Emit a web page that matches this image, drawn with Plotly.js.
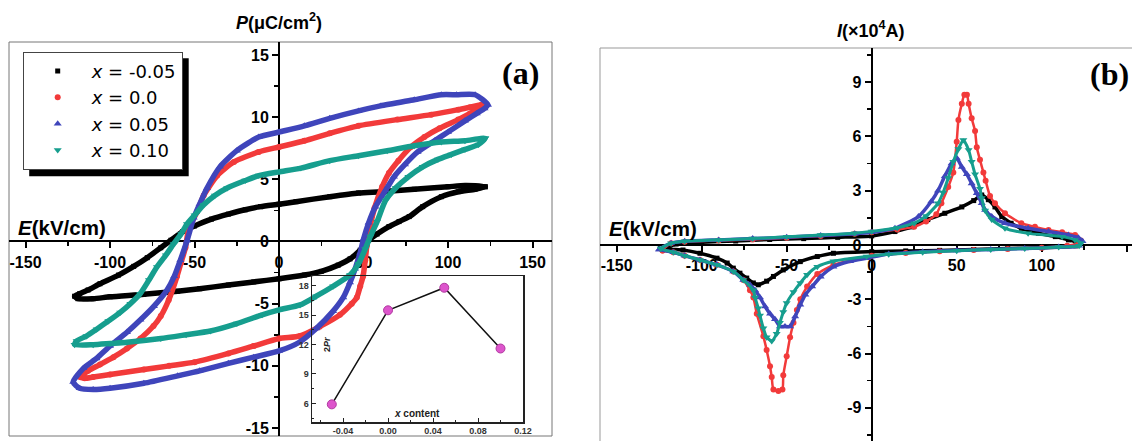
<!DOCTYPE html>
<html><head><meta charset="utf-8">
<script src="https://cdn.plot.ly/plotly-3.0.1.min.js"></script>
<style>html,body{margin:0;padding:0;background:#fff}#chart{width:1132px;height:441px}</style>
</head><body><div id="chart"></div>
<script>
// ---------- Panel (a): P-E loops (E in kV/cm, P in uC/cm2) ----------
const aBlackE = [122,110,100,80,60,47,30,10,0,-11,-20,-30,-40,-50,-57,-64,-70,-78,-86,-95,-106,-113,-118,-121,
                 -119,-110,-100,-80,-60,-47,-30,-15,0,15,25,35,42,48,53,58,65,71,77,85,96,106,116,122];
const aBlackP = [4.4,4.5,4.4,4.2,4.0,3.9,3.6,3.2,3.0,2.8,2.55,2.2,1.8,1.25,0.8,0.1,-0.5,-1.3,-2.0,-2.7,-3.4,-3.9,-4.2,-4.4,
                 -4.6,-4.6,-4.45,-4.25,-4.0,-3.8,-3.5,-3.25,-3.0,-2.7,-2.4,-1.9,-1.4,-0.7,0.1,0.6,1.2,1.6,2.0,2.8,3.6,4.0,4.2,4.4];
const aRedE = [120,113,106,90,70,47,30,15,0,-12,-26.7,-36.6,-44.6,-48.5,-53.5,-55.4,-58,-60.4,-65.3,-70,-74.3,-82,-90,-98,-106,-113,-117.8,
               -115,-110,-100,-80,-65,-50,-30,-15,0,12.4,24,36,43,46,48,49.7,51,52,54,56.5,61,65,70.6,78,86,95,106,113,118,120];
const aRedP = [11.0,10.8,10.6,10.2,9.8,9.3,8.7,8.1,7.6,7.2,6.4,5.3,3.7,2.4,1.0,-0.5,-1.7,-2.8,-4.7,-6.0,-6.8,-7.8,-8.6,-9.3,-9.9,-10.4,-10.9,
               -11.0,-10.9,-10.7,-10.3,-10.0,-9.7,-9.0,-8.4,-7.8,-7.6,-6.85,-5.9,-5.0,-4.5,-3.6,-2.8,-1.5,-0.3,1.3,2.7,4.4,5.5,6.5,7.6,8.4,9.1,9.8,10.3,10.7,11.0];
const aBlueE = [123.5,116,105,96,80,60,47,30,15,0,-12,-25,-35,-42.6,-47,-50.5,-54.5,-58.4,-62,-66.3,-74,-82,-90,-100,-108,-115.8,-121.8,
                -118,-110,-100,-80,-60,-47,-30,-15,0,12,22,32,38,42,45,48,50,53,57,63,68,74.5,82,92,100,110,117,121.6,123.5];
const aBlueP = [11.0,11.8,11.8,11.8,11.4,10.9,10.5,9.9,9.3,8.8,8.4,7.3,6.0,4.3,3.0,1.9,0.05,-1.5,-2.8,-3.9,-5.2,-6.3,-7.3,-8.4,-9.4,-10.2,-11.3,
                -11.8,-11.9,-11.8,-11.4,-10.8,-10.4,-9.8,-9.3,-8.8,-8.1,-7.0,-5.6,-4.5,-3.3,-2.2,-0.9,0.2,1.5,2.8,4.1,5.2,6.2,7.2,8.1,8.8,9.7,10.3,10.7,11.0];
const aTealE = [122,110,96,80,64,47,30,12.9,0,-12,-20,-30.7,-38,-44.6,-50,-54.5,-58,-62.4,-67,-72.3,-77,-82.2,-88,-94,-101,-107.9,-114,-119.8,-121,
                -110,-100,-90,-70,-55,-40.6,-25,-10,0,12.4,22,32,42,47,51,54,58,63,69,76.5,85,94,102,110,118,122];
const aTealP = [8.3,8.1,8.0,7.7,7.3,6.9,6.5,5.9,5.6,5.3,4.9,4.3,3.7,2.95,2.1,1.4,0.6,-0.2,-1.1,-2.05,-3.1,-4.2,-5.0,-5.7,-6.4,-7.05,-7.6,-8.0,-8.3,
                -8.3,-8.2,-8.1,-7.8,-7.5,-7.2,-6.6,-5.9,-5.5,-5.1,-4.4,-3.6,-2.7,-1.8,-0.6,0.4,1.6,3.3,4.3,5.2,6.0,6.6,7.0,7.4,7.8,8.3];

// ---------- Panel (b): I-E loops (I in 1e4 A) ----------
const bBlackE = [-121,-115,-100,-80,-60,-40,-20,0,13.7,23.5,33,43,53,60,64.7,68.6,72.5,76.5,82,88,98,108,115.7,121.6,
                 120,100,80,60,40,20,0,-22.5,-32,-42,-52,-57.8,-61.8,-66.7,-69.6,-73.5,-77.5,-81.4,-85,-91,-101,-111,-121];
const bBlackI = [-0.2,0.05,0.15,0.22,0.3,0.35,0.42,0.5,0.74,1.0,1.4,1.75,2.1,2.45,2.76,2.5,2.1,1.57,1.2,0.92,0.65,0.46,0.28,0.1,
                 -0.05,-0.15,-0.2,-0.25,-0.3,-0.33,-0.37,-0.46,-0.64,-0.92,-1.38,-1.74,-2.0,-2.2,-2.1,-1.83,-1.56,-1.28,-1.0,-0.73,-0.46,-0.28,-0.2];
const bRedE = [-123,-118,-110,-90,-70,-50,-30,-10,0,15,25,32,38,41,45,48,50,51,53,54.5,56,57,58.8,60.8,61.8,63.7,65.7,67,69.6,72.5,78.4,88,96,104,112,119.6,123,
               122,115,100,80,60,40,20,0,-12.7,-22.5,-32,-38,-42,-44,-46,-48,-50,-52,-52.5,-54.9,-57.8,-58.8,-59.8,-61.8,-63.7,-67.6,-69.6,-71.6,-75.5,-81.4,-91,-101,-110,-116.7,-123];
const bRedI = [-0.3,0.1,0.18,0.25,0.3,0.4,0.5,0.62,0.7,0.85,1.0,1.3,1.7,2.3,3.2,4.0,5.7,6.9,7.8,8.3,8.3,7.8,7.0,6.3,5.4,4.7,4.0,3.55,2.7,2.3,1.75,1.2,1.0,0.83,0.7,0.55,0.25,
               0.1,-0.05,-0.15,-0.22,-0.28,-0.35,-0.45,-0.6,-0.85,-1.1,-1.6,-2.3,-3.0,-3.6,-4.3,-5.1,-6.15,-7.2,-7.98,-8.07,-7.98,-7.3,-6.7,-5.8,-5.05,-3.8,-2.9,-2.5,-1.93,-1.47,-1.1,-0.83,-0.6,-0.4,-0.3];
const bBlueE = [-125,-118,-110,-90,-70,-50,-30,-10,0,13.7,27.5,35,39,43,47,50,53,56,58.8,61.8,64.7,66.7,70.6,78.4,92,104,115.7,121.6,124,
                122,110,90,70,50,30,10,-3,-12.7,-22.5,-30,-35,-39,-42,-45,-48,-51,-54,-56.9,-59.8,-62.7,-65.7,-68.6,-71.6,-75.5,-81.4,-91,-101,-110,-116.7,-125];
const bBlueI = [-0.25,0.1,0.2,0.28,0.35,0.43,0.52,0.62,0.7,0.92,1.57,2.4,3.0,3.8,4.5,4.8,4.3,3.9,3.4,2.85,2.3,1.93,1.57,1.2,0.92,0.74,0.55,0.4,0.2,
                -0.05,-0.12,-0.2,-0.25,-0.3,-0.38,-0.5,-0.73,-0.9,-1.2,-1.75,-2.3,-2.75,-3.3,-3.95,-4.5,-4.5,-4.5,-4.1,-3.8,-3.4,-2.9,-2.5,-2.2,-1.93,-1.47,-1.1,-0.83,-0.6,-0.4,-0.25];
const bTealE = [-124,-118,-110,-90,-70,-50,-30,-10,0,15,25,32,39,42,45,48,51,53.9,57,58.8,60.8,63.7,64.7,66.7,70.6,78.4,92,112,119.6,123,
                122,110,90,70,50,30,10,-3,-22.5,-32,-38,-42,-46,-50,-52,-54,-55.9,-58.8,-61.8,-63.7,-65.7,-66.7,-68.6,-69.6,-75.5,-81.4,-91,-101,-110,-116.7,-124];
const bTealI = [-0.2,0.1,0.2,0.28,0.35,0.45,0.55,0.65,0.75,0.95,1.2,1.6,2.3,2.9,3.7,4.6,5.3,5.8,5.25,4.6,3.9,3.1,2.6,1.9,1.4,0.92,0.64,0.46,0.28,0.1,
                -0.05,-0.12,-0.2,-0.25,-0.32,-0.4,-0.52,-0.64,-0.9,-1.2,-1.65,-2.1,-2.6,-3.2,-3.7,-4.3,-4.9,-5.3,-5.1,-4.6,-3.9,-3.5,-2.9,-2.5,-1.93,-1.47,-1.1,-0.83,-0.6,-0.4,-0.2];

// ---------- Inset: 2Pr vs x content ----------
const insetX = [-0.05, 0.0, 0.05, 0.10];
const inset2Pr = [5.9, 15.5, 17.8, 11.6];

// ---------- Names and tick labels ----------
const seriesNames = ['<i>x</i> = -0.05', '<i>x</i> = 0.0', '<i>x</i> = 0.05', '<i>x</i> = 0.10'];
const eTickVals = [-150,-100,-50,0,50,100,150];
const eTickText = ['-150','-100','-50','0','50','100','150'];
const pTickVals = [-15,-10,-5,0,5,10,15];
const pTickText = ['-15','-10','-5','0','5','10','15'];
const iTickVals = [-9,-6,-3,0,3,6,9];
const iTickText = ['-9','-6','-3','0','3','6','9'];
const inXTickVals = [-0.04,0.0,0.04,0.08,0.12];
const inXTickText = ['-0.04','0.00','0.04','0.08','0.12'];
const inYTickVals = [6,9,12,15,18];
const inYTickText = ['6','9','12','15','18'];

// ---------- Layout helpers ----------
const W = 1132, H = 441;
const FONT = 'Arial, "Liberation Sans", sans-serif';
const LEGFONT = '"DejaVu Sans", Verdana, sans-serif';
const SERIF = '"Times New Roman", "Liberation Serif", serif';
const px = x => x / W;
const py = y => 1 - y / H;
const colors = ['#000000', '#f23a3a', '#3f45bb', '#169e8e'];
const symbols = ['square', 'circle', 'triangle-up', 'triangle-down'];
const msize = [5, 6, 7, 7];

const xaDom = [px(9), px(552)], yaDom = [py(436), py(42)];
const xaRange = [-159.8, 161.5], yaRange = [-15.64, 16.04];
const xbDom = [px(600), 1], ybDom = [0, py(48)];
const xbRange = [-159.8, 153.1], ybRange = [-10.83, 10.88];
const zeroPos = (dom, r) => dom[0] + (0 - r[0]) / (r[1] - r[0]) * (dom[1] - dom[0]);

function mainX(dom, range, pos) {
  return {domain: dom, range: range, anchor: 'free', position: pos, showline: true, linecolor: '#000', linewidth: 2,
    ticks: 'outside', ticklen: 6, tickwidth: 2, tickcolor: '#000', tickmode: 'array', tickvals: eTickVals, ticktext: eTickText,
    minor: {tickmode: 'linear', tick0: 0, dtick: 25, ticks: 'outside', ticklen: 4, tickwidth: 1.5, tickcolor: '#000'},
    tickfont: {family: FONT, size: 16, color: '#000', weight: 'bold'}, showgrid: false, zeroline: false, layer: 'below traces', fixedrange: true};
}
function mainY(dom, range, pos, vals, text, minorStep) {
  return {domain: dom, range: range, anchor: 'free', position: pos, side: 'left', showline: true, linecolor: '#000', linewidth: 2,
    ticks: 'outside', ticklen: 6, tickwidth: 2, tickcolor: '#000', tickmode: 'array', tickvals: vals, ticktext: text,
    minor: {tickmode: 'linear', tick0: 0, dtick: minorStep, ticks: 'outside', ticklen: 4, tickwidth: 1.5, tickcolor: '#000'},
    tickfont: {family: FONT, size: 16, color: '#000', weight: 'bold'}, showgrid: false, zeroline: false, layer: 'below traces', fixedrange: true};
}

const traces = [];
const aE = [aBlackE, aRedE, aBlueE, aTealE], aP = [aBlackP, aRedP, aBlueP, aTealP];
for (let i = 0; i < 4; i++) {
  traces.push({x: aE[i], y: aP[i], xaxis: 'x', yaxis: 'y', mode: 'lines', showlegend: false, hoverinfo: 'skip',
    line: {color: colors[i], width: 5.5, shape: 'spline', smoothing: 0.6}});
  traces.push({x: aE[i], y: aP[i], xaxis: 'x', yaxis: 'y', mode: 'markers', name: seriesNames[i],
    marker: {color: colors[i], symbol: symbols[i], size: msize[i]}});
}
const bE = [bBlackE, bRedE, bBlueE, bTealE], bI = [bBlackI, bRedI, bBlueI, bTealI];
const bWidth = [3.5, 2.5, 3.5, 3];
for (let i = 0; i < 4; i++) {
  traces.push({x: bE[i], y: bI[i], xaxis: 'x2', yaxis: 'y2', mode: 'lines', showlegend: false, hoverinfo: 'skip',
    line: {color: colors[i], width: bWidth[i], shape: 'spline', smoothing: 0.6}});
  traces.push({x: bE[i], y: bI[i], xaxis: 'x2', yaxis: 'y2', mode: 'markers', showlegend: false,
    marker: {color: colors[i], symbol: symbols[i], size: msize[i]}});
}
traces.push({x: insetX, y: inset2Pr, xaxis: 'x3', yaxis: 'y3', mode: 'lines+markers', showlegend: false,
  line: {color: '#111', width: 1.5}, marker: {color: '#dd55cc', size: 9, line: {color: '#b03aa0', width: 1}}});

const frameShapes = [
  {type: 'rect', xref: 'paper', yref: 'paper', x0: px(9), x1: px(552), y0: py(436), y1: py(42), line: {color: '#777', width: 1}, layer: 'below'},
  {type: 'line', xref: 'paper', yref: 'paper', x0: px(600), x1: px(600), y0: 0, y1: py(48), line: {color: '#999', width: 1}, layer: 'below'},
  {type: 'line', xref: 'paper', yref: 'paper', x0: px(600), x1: 1, y0: py(48), y1: py(48), line: {color: '#999', width: 1}, layer: 'below'}
];

const layout = {
  width: W, height: H, margin: {l: 0, r: 0, t: 0, b: 0}, paper_bgcolor: '#fff', plot_bgcolor: 'rgba(0,0,0,0)',
  font: {family: FONT, color: '#000'},
  xaxis: mainX(xaDom, xaRange, zeroPos(yaDom, yaRange)),
  yaxis: mainY(yaDom, yaRange, zeroPos(xaDom, xaRange), pTickVals, pTickText, 2.5),
  xaxis2: mainX(xbDom, xbRange, zeroPos(ybDom, ybRange)),
  yaxis2: mainY(ybDom, ybRange, zeroPos(xbDom, xbRange), iTickVals, iTickText, 1.5),
  xaxis3: {domain: [px(312), px(523)], range: [-0.0676, 0.12], anchor: 'y3', showline: true, mirror: true, linecolor: '#222', linewidth: 1.5,
    ticks: 'inside', ticklen: 4, tickcolor: '#222', tickmode: 'array', tickvals: inXTickVals, ticktext: inXTickText,
    minor: {tickmode: 'linear', tick0: 0, dtick: 0.02, ticks: 'inside', ticklen: 2, tickcolor: '#222'},
    tickfont: {family: FONT, size: 9, color: '#333', weight: 'bold'}, showgrid: false, zeroline: false, fixedrange: true},
  yaxis3: {domain: [py(422), py(276)], range: [4.1, 19.0], anchor: 'x3', showline: true, mirror: true, linecolor: '#222', linewidth: 1.5,
    ticks: 'inside', ticklen: 4, tickcolor: '#222', tickmode: 'array', tickvals: inYTickVals, ticktext: inYTickText,
    minor: {tickmode: 'linear', tick0: 0, dtick: 1.5, ticks: 'inside', ticklen: 2, tickcolor: '#222'},
    tickfont: {family: FONT, size: 9, color: '#333', weight: 'bold'}, showgrid: false, zeroline: false, fixedrange: true},
  showlegend: true,
  legend: {x: px(22.7), y: py(51.7), xanchor: 'left', yanchor: 'top', bgcolor: '#fff', bordercolor: '#444', borderwidth: 1,
    font: {family: LEGFONT, size: 18, color: '#000'}, itemwidth: 58, tracegroupgap: 0, traceorder: 'normal'},
  shapes: frameShapes,
  annotations: [
    {xref: 'paper', yref: 'paper', x: px(279), y: py(22), xanchor: 'center', yanchor: 'middle', showarrow: false,
      text: '<b><i>P</i>(μC/cm<sup>2</sup>)</b>', font: {family: FONT, size: 18, color: '#000'}},
    {xref: 'paper', yref: 'paper', x: px(871), y: py(30), xanchor: 'center', yanchor: 'middle', showarrow: false,
      text: '<b><i>I</i>(×10<sup>4</sup>A)</b>', font: {family: FONT, size: 18, color: '#000'}},
    {xref: 'paper', yref: 'paper', x: px(16), y: py(227), xanchor: 'left', yanchor: 'middle', showarrow: false,
      text: '<b><i>E</i>(kV/cm)</b>', font: {family: FONT, size: 20.5, color: '#000'}},
    {xref: 'paper', yref: 'paper', x: px(607), y: py(229), xanchor: 'left', yanchor: 'middle', showarrow: false,
      text: '<b><i>E</i>(kV/cm)</b>', font: {family: FONT, size: 20.5, color: '#000'}},
    {xref: 'paper', yref: 'paper', x: px(520), y: py(73), xanchor: 'center', yanchor: 'middle', showarrow: false,
      text: '<b>(a)</b>', font: {family: SERIF, size: 32, color: '#000'}},
    {xref: 'paper', yref: 'paper', x: px(1131), y: py(74), xanchor: 'right', yanchor: 'middle', showarrow: false,
      text: '<b>(b)</b>', font: {family: SERIF, size: 32, color: '#000'}},
    {xref: 'paper', yref: 'paper', x: px(327), y: py(345), xanchor: 'center', yanchor: 'middle', showarrow: false, textangle: -90,
      text: '<b>2<i>Pr</i></b>', font: {family: FONT, size: 9, color: '#222'}},
    {xref: 'paper', yref: 'paper', x: px(417), y: py(413), xanchor: 'center', yanchor: 'middle', showarrow: false,
      text: '<b><i>x</i> content</b>', font: {family: FONT, size: 10, color: '#222'}}
  ]
};

Plotly.newPlot('chart', traces, layout, {displayModeBar: false, staticPlot: true}).then(function (gd) {
  // drop shadow behind the legend box, sized from the drawn legend
  const bg = gd.querySelector('.legend .bg');
  if (!bg) return;
  const r = bg.getBoundingClientRect(), g = gd.getBoundingClientRect();
  const L = r.left - g.left, T = r.top - g.top, R = r.right - g.left, B = r.bottom - g.top;
  const shadow = {type: 'rect', xref: 'paper', yref: 'paper', x0: px(L + 6), x1: px(R + 6.5), y0: py(B + 7), y1: py(T + 6),
    fillcolor: '#000', line: {width: 0}, layer: 'above'};
  return Plotly.relayout(gd, {shapes: frameShapes.concat([shadow])});
});
</script></body></html>
